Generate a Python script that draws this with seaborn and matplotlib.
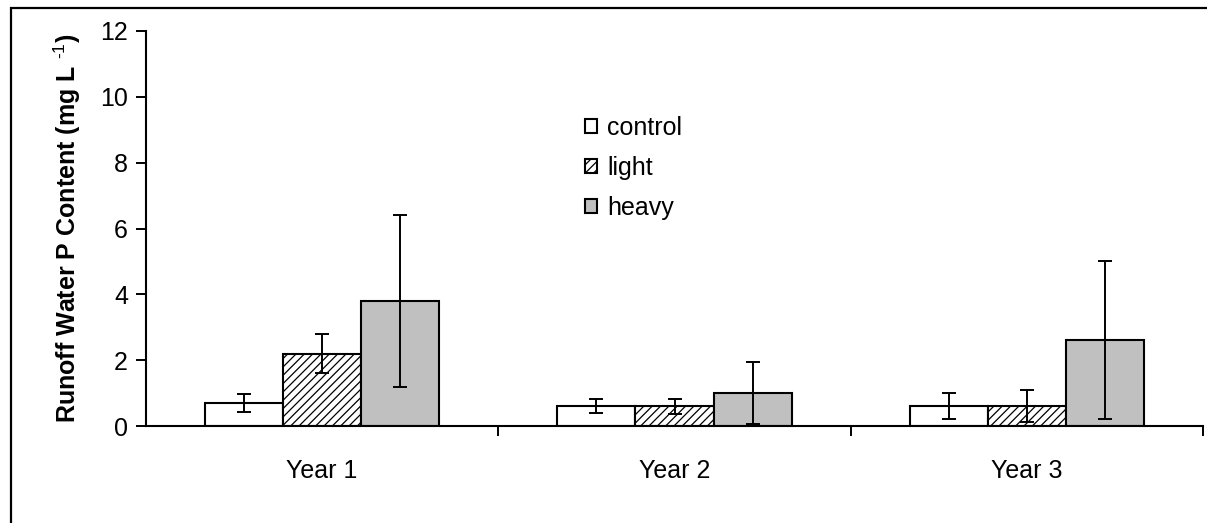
import matplotlib
matplotlib.use("Agg")
import matplotlib.pyplot as plt
import numpy as np
import pandas as pd
import seaborn as sns
from matplotlib.patches import Rectangle
from matplotlib.ticker import FixedLocator, NullFormatter

years = ["Year 1", "Year 2", "Year 3"]
treatments = ["control", "light", "heavy"]
control_mean = [0.7, 0.6, 0.6]
light_mean = [2.2, 0.6, 0.6]
heavy_mean = [3.8, 1.0, 2.6]
control_err = [0.28, 0.21, 0.4]
light_err = [0.6, 0.23, 0.48]
heavy_err = [2.6, 0.95, 2.4]

FILLS = {"control": "white", "light": "white", "heavy": "#C0C0C0"}
HATCHES = {"control": "", "light": "////", "heavy": ""}

sns.set_theme(style="ticks")
plt.rcParams["font.family"] = ["Liberation Sans", "DejaVu Sans"]
plt.rcParams["text.color"] = "black"
plt.rcParams["mathtext.fontset"] = "custom"
plt.rcParams["mathtext.rm"] = "Liberation Sans"
plt.rcParams["mathtext.bf"] = "Liberation Sans:bold"
plt.rcParams["hatch.linewidth"] = 0.9

df = pd.DataFrame({
    "year": years * 3,
    "treatment": np.repeat(treatments, 3),
    "value": control_mean + light_mean + heavy_mean,
    "err": control_err + light_err + heavy_err,
})

fig = plt.figure(figsize=(12.07, 5.23), dpi=100)
ax = fig.add_axes([146 / 1207, 1 - 426 / 523, (1203 - 146) / 1207, (426 - 31) / 523])

sns.barplot(
    data=df, x="year", y="value", hue="treatment",
    order=years, hue_order=treatments, palette=FILLS,
    width=0.665, gap=0, errorbar=None, edgecolor="black",
    linewidth=1.5, saturation=1, ax=ax,
)

# hatch + error bars, matched to bars by hue container
for cont, trt in zip(ax.containers, treatments):
    sub = df[df["treatment"] == trt].set_index("year").loc[years]
    xs = []
    for bar in cont:
        bar.set_hatch(HATCHES[trt])
        xs.append(bar.get_x() + bar.get_width() / 2)
    ax.errorbar(xs, sub["value"], yerr=sub["err"], fmt="none",
                ecolor="black", elinewidth=1.4, capsize=5, capthick=1.4, zorder=5)

ax.set_ylim(0, 12)
ax.set_xlim(-0.5, 2.5)
ax.set_yticks([0, 2, 4, 6, 8, 10, 12])
ax.tick_params(axis="y", labelsize=18, length=7, width=1.4, pad=6,
               color="black", labelcolor="black")
ax.tick_params(axis="x", which="major", length=0, labelsize=18, pad=24,
               labelcolor="black")
ax.xaxis.set_minor_locator(FixedLocator([0.5, 1.5, 2.5]))
ax.xaxis.set_minor_formatter(NullFormatter())
ax.tick_params(axis="x", which="minor", length=7, width=1.4, color="black")
ax.set_xlabel("")
ax.set_ylabel(r"Runoff Water P Content (mg L $^{\mathbf{\text{-1}}}$)",
              fontsize=18, fontweight="bold", labelpad=12, color="black")
for side in ["top", "right"]:
    ax.spines[side].set_visible(False)
for side in ["left", "bottom"]:
    ax.spines[side].set_linewidth(1.5)
    ax.spines[side].set_color("black")

leg = ax.legend(
    loc="center left", bbox_to_anchor=(572 / 1207, 1 - 168 / 523),
    bbox_transform=fig.transFigure, frameon=False, fontsize=18,
    handlelength=0.5, handleheight=0.5, handletextpad=0.4,
    labelspacing=0.64, borderpad=0, title=None,
)
for handle, trt in zip(leg.legend_handles, treatments):
    handle.set_hatch(HATCHES[trt])
    handle.set_edgecolor("black")
    handle.set_linewidth(1.5)

# outer chart-area frame (cropped at right and bottom)
fig.patches.append(Rectangle((11 / 1207, -0.1), 1.2, 1.1 - 8 / 523,
                             transform=fig.transFigure, fill=False,
                             edgecolor="black", linewidth=1.6))

fig.savefig("out.png", dpi=100)
